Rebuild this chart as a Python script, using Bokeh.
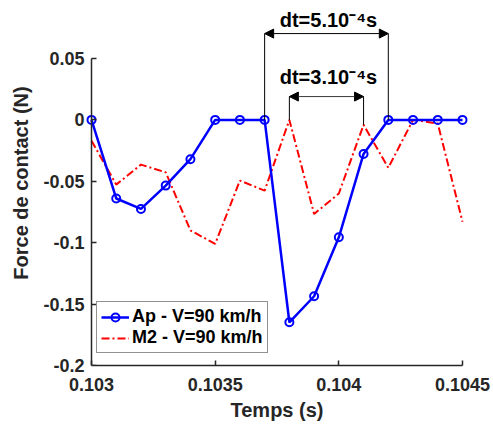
from bokeh.plotting import figure
from bokeh.models import (Range1d, FixedTicker, CustomJSTickFormatter, Arrow, NormalHead,
                          Label, Legend, LegendItem, ColumnDataSource, LinearAxis)
from bokeh.embed import file_html
from bokeh.resources import INLINE

# ---- data ----
time = [0.1030, 0.1031, 0.1032, 0.1033, 0.1034, 0.1035, 0.1036, 0.1037,
        0.1038, 0.1039, 0.1040, 0.1041, 0.1042, 0.1043, 0.1044, 0.1045]
ap = [0.0, -0.064, -0.0725, -0.0535, -0.032, 0.0, 0.0, 0.0,
      -0.1648, -0.1436, -0.0956, -0.0277, 0.0, 0.0, 0.0, 0.0]
m2 = [-0.017, -0.0527, -0.0364, -0.0427, -0.090, -0.101, -0.0494, -0.0576,
      0.0, -0.0766, -0.060, -0.004, -0.039, 0.0, -0.003, -0.083]

x_ticks = [0.103, 0.1035, 0.104, 0.1045]
x_tick_labels = ["0.103", "0.1035", "0.104", "0.1045"]
y_ticks = [-0.2, -0.15, -0.1, -0.05, 0.0, 0.05]
y_tick_labels = ["-0.2", "-0.15", "-0.1", "-0.05", "0", "0.05"]

# dt annotations
dt_start = [0.1037, 0.1038]
dt_end = [0.1042, 0.1041]
dt_series = ["ap", "m2"]
dt_level = [0.0703, 0.019]
dt_text = ["dt=5.10\u207b\u2074s", "dt=3.10\u207b\u2074s"]

FONT = "Liberation Sans"
AX = "#262626"

# layout (pixels)
px_per_unit_x = 247333.0
px_per_unit_y = 1228.0
pad_px = 6
d = pad_px / px_per_unit_x
frame_w = 383
frame_h = 365
y_top = y_ticks[0] + frame_h / px_per_unit_y

p = figure(frame_width=frame_w, frame_height=frame_h,
           x_range=Range1d(x_ticks[0] - d, x_ticks[-1] + d),
           y_range=Range1d(y_ticks[0], y_top),
           output_backend="svg", toolbar_location=None,
           min_border_left=85, min_border_right=24, min_border_top=0, min_border_bottom=61)
p.outline_line_color = None
p.grid.visible = False
p.background_fill_color = "white"
p.border_fill_color = "white"

src = ColumnDataSource(dict(t=time, ap=ap, m2=m2))

r_m2 = p.line("t", "m2", source=src, line_color="#FF0000", line_width=2, line_dash="8 3 2 3")
r_ap_line = p.line("t", "ap", source=src, line_color="#0000FF", line_width=2.5)
r_ap_pts = p.scatter("t", "ap", source=src, marker="circle", size=8, line_color="#0000FF",
                     line_width=2, fill_color=None)

# drop lines and arrows
series = {"ap": ap, "m2": m2}
sx, sy0, sy1 = [], [], []
for t0, t1, s, lev in zip(dt_start, dt_end, dt_series, dt_level):
    for t in (t0, t1):
        i = min(range(len(time)), key=lambda k: abs(time[k] - t))
        sx.append(t)
        sy0.append(lev)
        sy1.append(series[s][i])
p.segment(x0=sx, y0=sy0, x1=sx, y1=sy1, line_color="black", line_width=1)

for t0, t1, lev, col in zip(dt_start, dt_end, dt_level, ["black", "#3a3a3a"]):
    p.add_layout(Arrow(x_start=t0, y_start=lev, x_end=t1, y_end=lev, line_color=col, line_width=1,
                       start=NormalHead(size=9, fill_color="black", line_color="black", line_width=1),
                       end=NormalHead(size=9, fill_color="black", line_color="black", line_width=1)))

text_x = (dt_start[0] + dt_end[0]) / 2
for txt, lev, off in zip(dt_text, dt_level, [14, 20]):
    p.add_layout(Label(x=text_x, y=lev, text=txt, x_offset=2, y_offset=off,
                       text_align="center", text_baseline="alphabetic",
                       text_font=FONT, text_font_style="bold", text_font_size="20px",
                       text_color="black"))

fmt_code = """
const i = vals.findIndex(v => Math.abs(v - tick) < 1e-9);
return i >= 0 ? labels[i] : '';
"""

def style(ax):
    ax.axis_line_color = AX
    ax.axis_line_width = 1.5
    ax.major_tick_line_color = AX
    ax.major_tick_line_width = 1.5
    ax.major_tick_in = 5
    ax.major_tick_out = 0
    ax.minor_tick_line_color = None
    ax.major_label_text_font = FONT
    ax.major_label_text_font_style = "bold"
    ax.major_label_text_font_size = "18px"
    ax.major_label_text_color = AX
    ax.axis_label_text_font = FONT
    ax.axis_label_text_font_style = "bold"
    ax.axis_label_text_font_size = "20px"
    ax.axis_label_text_color = AX

# x axis
xa = p.xaxis[0]
style(xa)
xa.bounds = (x_ticks[0], x_ticks[-1])
xa.ticker = FixedTicker(ticks=x_ticks)
xa.formatter = CustomJSTickFormatter(args=dict(vals=x_ticks, labels=x_tick_labels), code=fmt_code)
xa.axis_label = "Temps (s)"
xa.major_label_standoff = 12
xa.axis_label_standoff = 5

# y axis: labels (at frame edge, line hidden)
ya = p.yaxis[0]
style(ya)
ya.ticker = FixedTicker(ticks=y_ticks)
ya.formatter = CustomJSTickFormatter(args=dict(vals=y_ticks, labels=y_tick_labels), code=fmt_code)
ya.axis_label = "Force de contact (N)"
ya.axis_line_color = None
ya.major_tick_line_color = None
ya.major_label_standoff = 1
ya.axis_label_standoff = 8

# y axis line + ticks at x = first time value
ya2 = LinearAxis(fixed_location=x_ticks[0], ticker=FixedTicker(ticks=y_ticks),
                 bounds=(y_ticks[0], y_ticks[-1]))
style(ya2)
ya2.major_label_text_color = None
ya2.major_label_standoff = 0
ya2.axis_label = None
p.add_layout(ya2, "left")

legend = Legend(items=[LegendItem(label="Ap - V=90 km/h", renderers=[r_ap_line, r_ap_pts]),
                       LegendItem(label="M2 - V=90 km/h", renderers=[r_m2])],
                location=(11, 12), orientation="vertical",
                label_text_font=FONT, label_text_font_style="bold", label_text_font_size="18px",
                label_text_color="black", glyph_width=28, glyph_height=20, label_height=20,
                label_standoff=3, spacing=0, padding=4, border_line_color=AX, border_line_width=1,
                background_fill_color="white", background_fill_alpha=1.0, margin=0)
p.add_layout(legend, "center")

open("out.html", "w").write(file_html(p, INLINE))
